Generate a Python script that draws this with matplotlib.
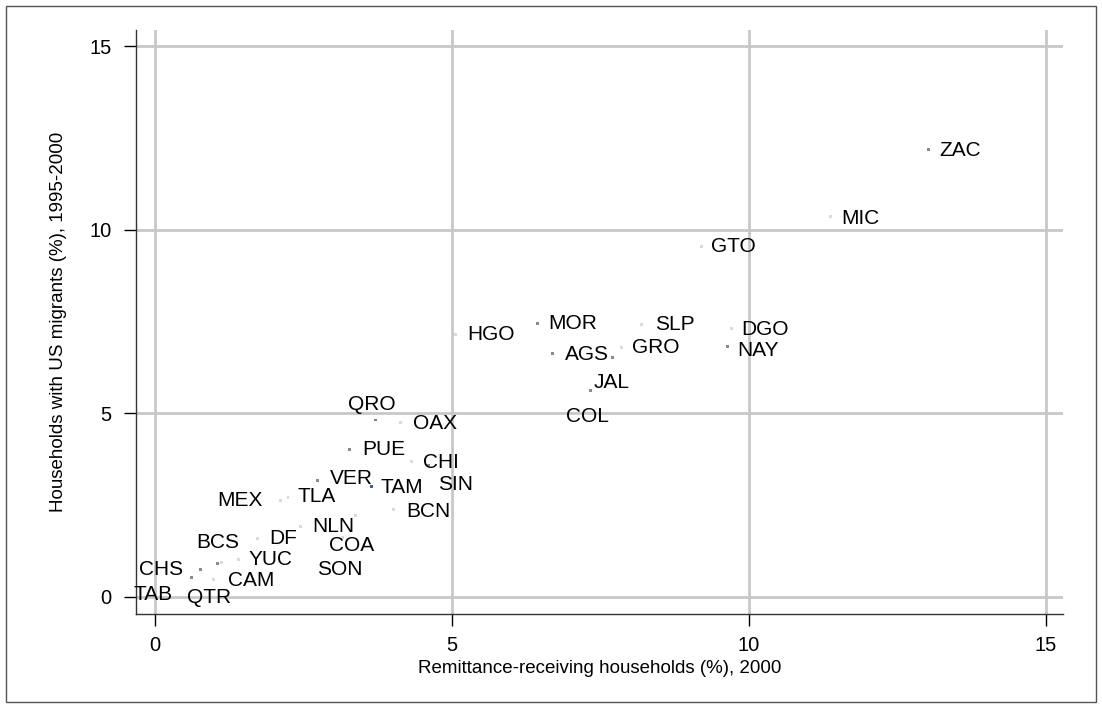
import matplotlib
matplotlib.use("Agg")
import matplotlib.pyplot as plt
from matplotlib.patches import Rectangle

plt.rcParams['font.family'] = ['Liberation Sans', 'DejaVu Sans']

states = ["ZAC", "MIC", "GTO", "HGO", "MOR", "AGS", "JAL", "COL", "GRO", "SLP",
          "DGO", "NAY", "QRO", "OAX", "PUE", "CHI", "SIN", "VER", "TAM", "BCN",
          "TLA", "MEX", "NLN", "COA", "SON", "DF", "YUC", "BCS", "CHS", "TAB",
          "QTR", "CAM"]
remit = [13.03, 11.37, 9.20, 5.06, 6.44, 6.70, 7.70, 7.34, 7.86, 8.20,
         9.70, 9.64, 3.71, 4.13, 3.28, 4.32, 4.60, 2.74, 3.64, 4.02,
         2.24, 2.11, 2.45, 3.38, 3.16, 1.72, 1.41, 1.05, 0.76, 0.62,
         0.99, 1.12]
migr = [12.18, 10.37, 9.55, 7.14, 7.45, 6.64, 6.53, 5.62, 6.79, 7.43,
        7.31, 6.82, 4.82, 4.76, 4.01, 3.70, 3.57, 3.18, 3.02, 2.38,
        2.70, 2.64, 1.91, 2.21, 1.62, 1.60, 1.01, 0.90, 0.76, 0.54,
        0.48, 0.94]
xticks = [0, 5, 10, 15]
yticks = [0, 5, 10, 15]
xlabel = "Remittance-receiving households (%), 2000"
ylabel = "Households with US migrants (%), 1995-2000"

# label placement (offset in pixels, horizontal alignment)
label_pos = {
    "ZAC": (11, -1, "left"), "MIC": (11, -2, "left"), "GTO": (10, 0, "left"),
    "HGO": (12, 0, "left"), "MOR": (11, 0, "left"), "AGS": (12, -1, "left"),
    "JAL": (-1, -25, "center"), "COL": (-3, -26, "center"), "GRO": (10, 0, "left"),
    "SLP": (13, 0, "left"), "DGO": (10, -1, "left"), "NAY": (10, -4, "left"),
    "QRO": (-4, 15, "center"), "OAX": (13, -1, "left"), "PUE": (12, 0, "left"),
    "CHI": (11, -1, "left"), "SIN": (10, -19, "left"), "VER": (12, 2, "left"),
    "TAM": (9, -1, "left"), "BCN": (13, -2, "left"), "TLA": (9, 1, "left"),
    "MEX": (-18, 0, "right"), "NLN": (12, 0, "left"), "COA": (-4, -30, "center"),
    "SON": (-3, -32, "center"), "DF": (12, 0, "left"), "YUC": (10, 0, "left"),
    "BCS": (0, 21, "center"), "CHS": (-17, 0, "right"), "TAB": (-19, -17, "right"),
    "QTR": (-5, -18, "center"), "CAM": (6, -18, "left"),
}
# marker shade (most markers in the reference are barely visible)
marker_shade = {s: '#dadada' for s in states}
for s in ["ZAC", "MOR", "AGS", "JAL", "COL", "NAY", "PUE", "SIN", "VER",
          "CHS", "TAB", "BCS"]:
    marker_shade[s] = '#8a8a8a'
marker_shade["QRO"] = '#7080a8'
marker_shade["TAM"] = '#4a5a98'

W, H = 1102, 707
fig = plt.figure(figsize=(W / 100, H / 100), dpi=100)
fig.patches.append(Rectangle((6 / W, 5 / H), (W - 12) / W, (H - 11) / H,
                             transform=fig.transFigure, fill=False,
                             edgecolor='#555555', linewidth=1.0))

ax = fig.add_axes([136 / W, (H - 614) / H, (1063 - 136) / W, (614 - 30) / H])
ax.set_xlim(-0.32, 15.29)
ax.set_ylim(-0.463, 15.44)

for v in xticks:
    ax.axvline(v, color='#c8c8c8', linewidth=2.0, zorder=0)
for v in yticks:
    ax.axhline(v, color='#c8c8c8', linewidth=2.0, zorder=0)

ax.scatter(remit, migr, marker='s', s=4.5,
           c=[marker_shade[s] for s in states], linewidths=0, zorder=3)

for s, x, y in zip(states, remit, migr):
    dx, dy, ha = label_pos[s]
    ax.annotate(s, (x, y), xytext=(dx, dy), textcoords='offset pixels',
                ha=ha, va='center', fontsize=15, color='black', zorder=4)

ax.set_xticks(xticks)
ax.set_yticks(yticks)
ax.tick_params(axis='both', direction='out', length=8.5, width=1, colors='black',
               labelsize=14.5)
ax.tick_params(axis='x', pad=7)
ax.tick_params(axis='y', pad=9)
for sp in ['top', 'right']:
    ax.spines[sp].set_visible(False)
for sp in ['left', 'bottom']:
    ax.spines[sp].set_color('#333333')
    ax.spines[sp].set_linewidth(1.0)

ax.set_xlabel(xlabel, fontsize=13.5, labelpad=4)
ax.set_ylabel(ylabel, fontsize=13.5, labelpad=16)

fig.savefig("out.png", dpi=100)
